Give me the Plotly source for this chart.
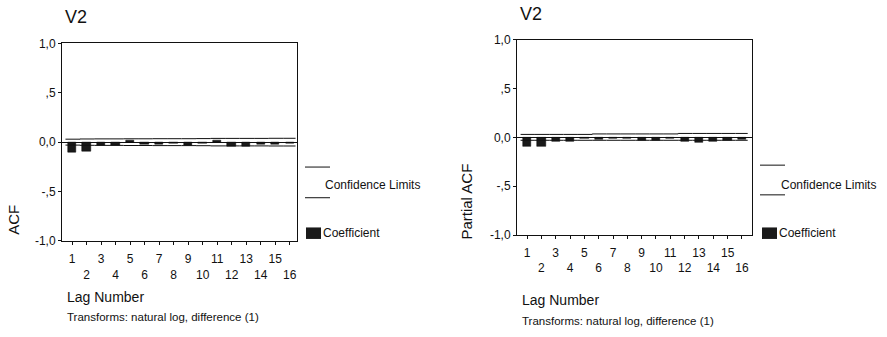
import plotly.graph_objects as go

lags = list(range(1, 17))
tick_text = [str(l) if l % 2 == 1 else "<br>" + str(l) for l in lags]
y_tickvals = [-1.0, -0.5, 0.0, 0.5, 1.0]
y_ticktext = ["-1,0", "-,5", "0,0", ",5", "1,0"]

acf = [-0.10, -0.09, -0.03, -0.03, 0.02, -0.02, -0.02, -0.01,
       -0.03, -0.01, 0.02, -0.04, -0.04, -0.02, -0.02, -0.01]
acf_upper = [0.030, 0.032, 0.033, 0.033, 0.034, 0.034, 0.035, 0.035,
             0.035, 0.036, 0.038, 0.038, 0.038, 0.038, 0.039, 0.039]
acf_lower = [-v for v in acf_upper]

pacf = [-0.09, -0.09, -0.04, -0.04, -0.01, -0.02, -0.01, -0.01,
        -0.03, -0.03, -0.01, -0.04, -0.05, -0.04, -0.03, -0.02]
pacf_upper = [0.030, 0.030, 0.030, 0.030, 0.030, 0.035, 0.035, 0.035,
              0.035, 0.035, 0.035, 0.040, 0.040, 0.040, 0.040, 0.040]
pacf_lower = [-0.030] * 16

FONT = "Liberation Sans, Arial, sans-serif"
INK = "#111111"

fig = go.Figure()

panels = [
    dict(x="x", y="y", vals=acf, up=acf_upper, lo=acf_lower,
         xdom=[62 / 887, 297 / 887], ydom=[1 - 244 / 337, 1 - 38 / 337],
         xr=[0.31, 16.5], ytitle="ACF"),
    dict(x="x2", y="y2", vals=pacf, up=pacf_upper, lo=pacf_lower,
         xdom=[517 / 887, 752 / 887], ydom=[1 - 238 / 337, 1 - 34 / 337],
         xr=[0.30, 16.7], ytitle="Partial ACF"),
]

for p in panels:
    fig.add_trace(go.Bar(x=lags, y=p["vals"], xaxis=p["x"], yaxis=p["y"],
                         marker=dict(color="#1a1a1a", line=dict(color="#000", width=0.5)),
                         width=0.58, showlegend=False))
    for lim in (p["up"], p["lo"]):
        fig.add_trace(go.Scatter(x=[l - 0.45 for l in lags] + [16.4], y=lim + [lim[-1]],
                                 xaxis=p["x"], yaxis=p["y"], mode="lines",
                                 line=dict(color=INK, width=1, shape="hv"),
                                 showlegend=False))

axis_common = dict(showgrid=False, showline=True, linecolor=INK, linewidth=1,
                   mirror=True, ticks="outside", ticklen=3, tickcolor=INK,
                   tickfont=dict(family=FONT, size=12, color=INK))

layout = dict(
    width=887, height=337, margin=dict(l=0, r=0, t=0, b=0),
    paper_bgcolor="white", plot_bgcolor="white", bargap=0,
    xaxis=dict(domain=panels[0]["xdom"], range=panels[0]["xr"], anchor="y",
               tickvals=lags, ticktext=tick_text, tickangle=0, zeroline=False,
               ticklabelstandoff=4, **axis_common),
    yaxis=dict(domain=panels[0]["ydom"], range=[-1, 1], anchor="x",
               tickvals=y_tickvals, ticktext=y_ticktext, zeroline=True,
               zerolinecolor=INK, zerolinewidth=1, **axis_common),
    xaxis2=dict(domain=panels[1]["xdom"], range=panels[1]["xr"], anchor="y2",
                tickvals=lags, ticktext=tick_text, tickangle=0, zeroline=False,
                ticklabelstandoff=3, **axis_common),
    yaxis2=dict(domain=panels[1]["ydom"], range=[-1, 1], anchor="x2",
                tickvals=y_tickvals, ticktext=y_ticktext, zeroline=True,
                zerolinecolor=INK, zerolinewidth=1, **axis_common),
)
fig.update_layout(**layout)

def px(x):
    return x / 887

def py(y):
    return 1 - y / 337

ann = []
shapes = []
for xl, yt, ytitle, xyt, lagx, lagy, trx, try_ in [
    (63, 10, "ACF", (14, 222), 65, 303, 65, 323),
    (518, 7, "Partial ACF", (467, 203), 520, 306, 520, 328),
]:
    ann.append(dict(x=px(xl), y=py(yt), xref="paper", yref="paper", text="V2",
                    showarrow=False, xanchor="left", yanchor="middle",
                    font=dict(family=FONT, size=18, color=INK)))
    ann.append(dict(x=px(xyt[0]), y=py(xyt[1]), xref="paper", yref="paper", text=ytitle,
                    showarrow=False, textangle=-90, xanchor="center", yanchor="middle",
                    font=dict(family=FONT, size=15, color=INK)))
    ann.append(dict(x=px(lagx), y=py(lagy), xref="paper", yref="paper", text="Lag Number",
                    showarrow=False, xanchor="left", yanchor="middle",
                    font=dict(family=FONT, size=14, color=INK)))
    ann.append(dict(x=px(trx), y=py(try_), xref="paper", yref="paper",
                    text="Transforms: natural log, difference (1)",
                    showarrow=False, xanchor="left", yanchor="middle",
                    font=dict(family=FONT, size=11.5, color=INK)))

for lx, tx, bx, l1, l2 in [(305, 323, 306, 167, 199), (760, 779, 762, 165, 196)]:
    for ly in (l1, l2):
        shapes.append(dict(type="line", xref="paper", yref="paper",
                           x0=px(lx), x1=px(lx + 25), y0=py(ly), y1=py(ly),
                           line=dict(color=INK, width=1)))
    ann.append(dict(x=px(tx), y=py(186), xref="paper", yref="paper",
                    text="Confidence Limits", showarrow=False, xanchor="left",
                    yanchor="middle", font=dict(family=FONT, size=12, color=INK)))
    shapes.append(dict(type="rect", xref="paper", yref="paper",
                       x0=px(bx), x1=px(bx + 15), y0=py(242), y1=py(230),
                       fillcolor="#1a1a1a", line=dict(width=0)))
    ann.append(dict(x=px(bx + 15), y=py(236), xref="paper", yref="paper",
                    text="Coefficient", showarrow=False, xanchor="left",
                    yanchor="middle", font=dict(family=FONT, size=12, color=INK)))

fig.update_layout(annotations=ann, shapes=shapes)
fig.write_html("out.html")
